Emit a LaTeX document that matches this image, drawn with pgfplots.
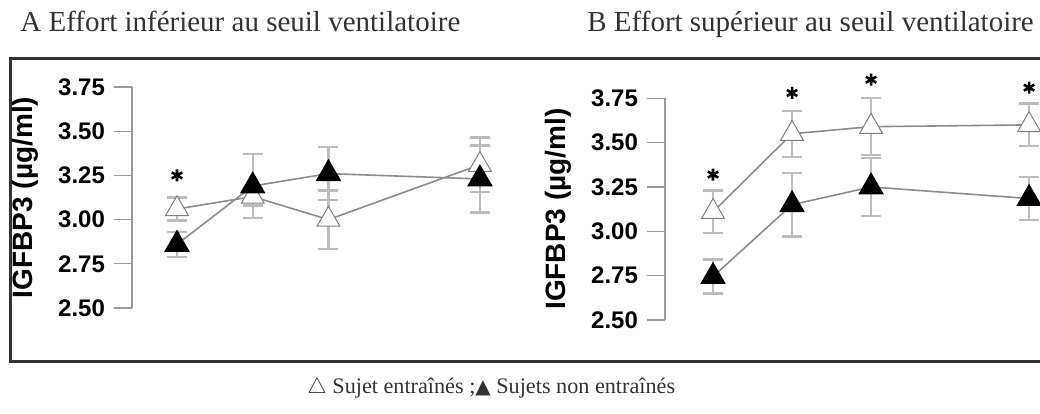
\documentclass[border=0pt]{standalone}
\usepackage{fontspec}
\setmainfont{Liberation Serif}
\newfontfamily\arial{Liberation Sans}
\newfontfamily\dejavu{DejaVu Sans}
\usepackage{pgfplots}
\pgfplotsset{compat=1.18}

\definecolor{framegray}{HTML}{333333}
\definecolor{errgray}{HTML}{BDBDBD}
\definecolor{linegray}{HTML}{8C8C8C}
\definecolor{axgray}{HTML}{9A9A9A}

% one picture pixel = 0.5pt
\pgfplotsset{
  panel/.style={
    scale only axis, clip=false,
    anchor=south west,
    ymin=2.5, ymax=3.75,
    ytick={2.5,2.75,3,3.25,3.5,3.75},
    axis x line=none, axis y line*=left,
    xtick=\empty,
    tick align=outside, major tick length=9pt,
    y axis line style={axgray, line width=0.6pt},
    every y tick/.style={axgray, line width=0.6pt},
    yticklabel style={font=\arial\bfseries\fontsize{12}{12}\selectfont, xshift=-1pt,
      /pgf/number format/fixed, /pgf/number format/fixed zerofill,
      /pgf/number format/precision=2, /pgf/number format/assume math mode=true},
    ylabel={IGFBP3 (µg/ml)},
    every axis y label/.style={at={(axis description cs:0,0.5)}, xshift=-53.5pt,
      rotate=90, anchor=center, font=\arial\bfseries\fontsize{14}{14}\selectfont},
  },
  errs/.style={error bars/.cd, y dir=both, y explicit,
    error bar style={errgray, line width=1.2pt},
    error mark options={errgray, line width=1.2pt, mark size=5pt, rotate=90}},
  trained/.style={linegray, line width=0.8pt, mark=triangle*, mark size=6.6pt,
    mark options={fill=white, draw=gray, line width=0.5pt}, errs},
  untrained/.style={linegray, line width=0.8pt, mark=triangle*, mark size=6.6pt,
    mark options={fill=black, draw=black}, errs},
  stars/.style={only marks, mark=asterisk, mark size=3pt, line width=1.3pt, black},
}

\begin{document}
\begin{tikzpicture}
\path[use as bounding box] (0pt,0pt) rectangle (520pt,206.5pt);
\clip (0pt,0pt) rectangle (520pt,206.5pt);

\node[anchor=base west, inner sep=0, text=framegray, font=\fontsize{14.5}{14.5}\selectfont]
  at (10pt,190.5pt) {A Effort inférieur au seuil ventilatoire};
\node[anchor=base west, inner sep=0, text=framegray, font=\fontsize{14.5}{14.5}\selectfont]
  at (293.5pt,190.5pt) {B Effort supérieur au seuil ventilatoire};
\node[anchor=base west, inner sep=0, text=framegray, font=\fontsize{11.1}{11.1}\selectfont]
  at (153.5pt,9.5pt) {$\triangle$ Sujet entraînés ;{\dejavu\fontsize{10}{10}\selectfont ▲} Sujets non entraînés};

\draw[framegray, line width=1.5pt] (5pt,25.75pt) rectangle (530pt,177.25pt);

% A: below the ventilatory threshold
\begin{axis}[panel, at={(66pt,52.5pt)}, width=192.9pt, height=110.5pt,
  xmin=-0.594, xmax=4.5]
\addplot+[trained] coordinates {
  (0,3.06) +- (0,0.065)
  (1,3.13) +- (0,0.05)
  (2,3.00) +- (0,0.165)
  (4,3.31) +- (0,0.155)
};
\addplot+[untrained] coordinates {
  (0,2.86) +- (0,0.07)
  (1,3.19) +- (0,0.18)
  (2,3.26) +- (0,0.15)
  (4,3.23) +- (0,0.19)
};
\addplot[stars] coordinates {(0,3.25)};
\end{axis}

% B: above the ventilatory threshold
\begin{axis}[panel, at={(332.5pt,46.5pt)}, width=201.8pt, height=110.85pt,
  xmin=-0.608, xmax=4.5]
\addplot+[trained] coordinates {
  (0,3.11) +- (0,0.12)
  (1,3.55) +- (0,0.13)
  (2,3.59) +- (0,0.16)
  (4,3.60) +- (0,0.12)
};
\addplot+[untrained] coordinates {
  (0,2.745) +- (0,0.095)
  (1,3.15) +- (0,0.18)
  (2,3.25) +- (0,0.165)
  (4,3.185) +- (0,0.12)
};
\addplot[stars] coordinates {(0,3.32) (1,3.78) (2,3.855) (4,3.81)};
\end{axis}
\end{tikzpicture}
\end{document}
